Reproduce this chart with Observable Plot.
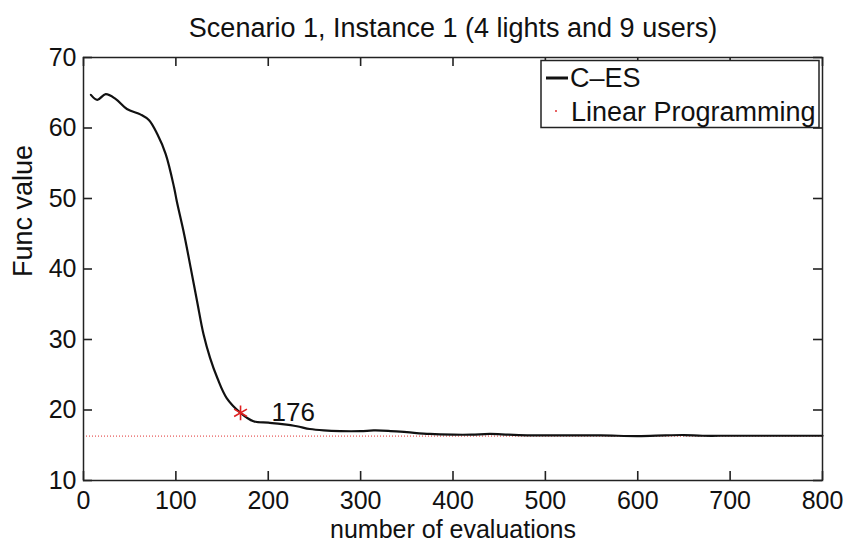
<!DOCTYPE html>
<html><head><meta charset="utf-8">
<script src="https://cdn.jsdelivr.net/npm/d3@7"></script>
<script src="https://cdn.jsdelivr.net/npm/@observablehq/plot@0.6"></script>
<style>body{margin:0;background:#fff}</style>
</head><body><div id="chart"></div>
<script>
const evaluations = [8, 15, 24, 35, 47, 62, 71, 80, 89, 98, 101, 109, 116, 123, 130, 137, 145, 155, 170, 184, 200, 215, 231, 245, 260, 278, 300, 314, 330, 350, 375, 400, 420, 440, 460, 484, 520, 560, 600, 630, 650, 670, 700, 750, 800];
const funcValues = [64.7, 64.0, 64.8, 64.1, 62.7, 61.9, 61.1, 59.1, 56.3, 51.6, 49.6, 44.9, 40.2, 35.4, 30.7, 27.4, 24.5, 21.7, 19.6, 18.4, 18.2, 18.0, 17.7, 17.3, 17.1, 17.0, 17.0, 17.1, 17.05, 16.85, 16.6, 16.5, 16.5, 16.6, 16.5, 16.4, 16.4, 16.4, 16.3, 16.4, 16.45, 16.35, 16.35, 16.35, 16.35];
const lpValue = 16.3;
const markerX = 170, markerY = 19.6, markerLabel = "176";
const xTicks = [0, 100, 200, 300, 400, 500, 600, 700, 800];
const yTicks = [10, 20, 30, 40, 50, 60, 70];
const xDomain = [0, 800], yDomain = [10, 70];
const title = "Scenario 1, Instance 1 (4 lights and 9 users)";
const xLabel = "number of evaluations";
const yLabel = "Func value";
const seriesNames = ["C\u2013ES", "Linear Programming"];

const W = 848, H = 542, mT = 57, mB = 62, mL = 83, mR = 26;
const frameH = H - mT - mB, frameW = W - mL - mR, tick = 9;
const font = "'Liberation Sans', Arial, Helvetica, sans-serif";

const data = evaluations.map((x, i) => ({x, y: funcValues[i]}));
const marker = {x: markerX, y: markerY, label: markerLabel};
const tickStyle = {stroke: "#222", strokeWidth: 1.6};

const svg = Plot.plot({
  width: W, height: H, marginTop: mT, marginBottom: mB, marginLeft: mL, marginRight: mR,
  style: {fontFamily: font, fontSize: "25px", background: "white", overflow: "visible", color: "#111"},
  x: {domain: xDomain, ticks: xTicks},
  y: {domain: yDomain, ticks: yTicks},
  marks: [
    Plot.ruleY([lpValue], {y: d => d, stroke: "#e03030", strokeWidth: 1, strokeDasharray: "1,2"}),
    Plot.line(data, {x: "x", y: "y", curve: "catmull-rom", stroke: "#111", strokeWidth: 2.2}),
    Plot.dot([marker], {x: "x", y: "y", symbol: "asterisk", r: 7, stroke: "#e02020", strokeWidth: 1.6}),
    Plot.text([marker], {x: "x", y: "y", text: "label", dx: 31, textAnchor: "start", fontSize: 26, fill: "#111"}),
    // inward ticks on all four sides
    Plot.tickX(xTicks, {x: d => d, insetTop: frameH - tick, ...tickStyle}),
    Plot.tickX(xTicks, {x: d => d, insetBottom: frameH - tick, ...tickStyle}),
    Plot.tickY(yTicks, {y: d => d, insetRight: frameW - tick, ...tickStyle}),
    Plot.tickY(yTicks, {y: d => d, insetLeft: frameW - tick, ...tickStyle}),
    // tick labels
    Plot.axisX(xTicks, {anchor: "bottom", tickSize: 0, tickPadding: 11, label: null, fontSize: 25}),
    Plot.axisY(yTicks, {anchor: "left", tickSize: 0, tickPadding: 7, label: null, fontSize: 25}),
    Plot.frame({stroke: "#222", strokeWidth: 1.5}),
    Plot.text([title], {text: d => d, frameAnchor: "top", dy: -40, lineAnchor: "top", fontSize: 27}),
    Plot.text([xLabel], {text: d => d, frameAnchor: "bottom", dy: 39.25, lineAnchor: "top", fontSize: 25}),
    Plot.text([yLabel], {text: d => d, frameAnchor: "left", dx: -60, dy: 8, rotate: -90, fontSize: 27})
  ]
});

const g = d3.select(svg).append("g").attr("font-family", font).attr("font-size", 27)
  .attr("fill", "#111").attr("text-anchor", "start");
g.append("rect").attr("x", 541).attr("y", 60.5).attr("width", 278).attr("height", 67)
  .attr("fill", "white").attr("stroke", "#222").attr("stroke-width", 1.5);
g.append("line").attr("x1", 546).attr("x2", 568).attr("y1", 78).attr("y2", 78)
  .attr("stroke", "#111").attr("stroke-width", 3);
g.append("text").attr("x", 570).attr("y", 87).attr("text-anchor", "start").text(seriesNames[0]);
g.append("circle").attr("cx", 556).attr("cy", 111).attr("r", 1).attr("fill", "#e03030");
g.append("text").attr("x", 571).attr("y", 121).attr("text-anchor", "start").text(seriesNames[1]);

document.getElementById("chart").appendChild(svg);
</script>
</body></html>
